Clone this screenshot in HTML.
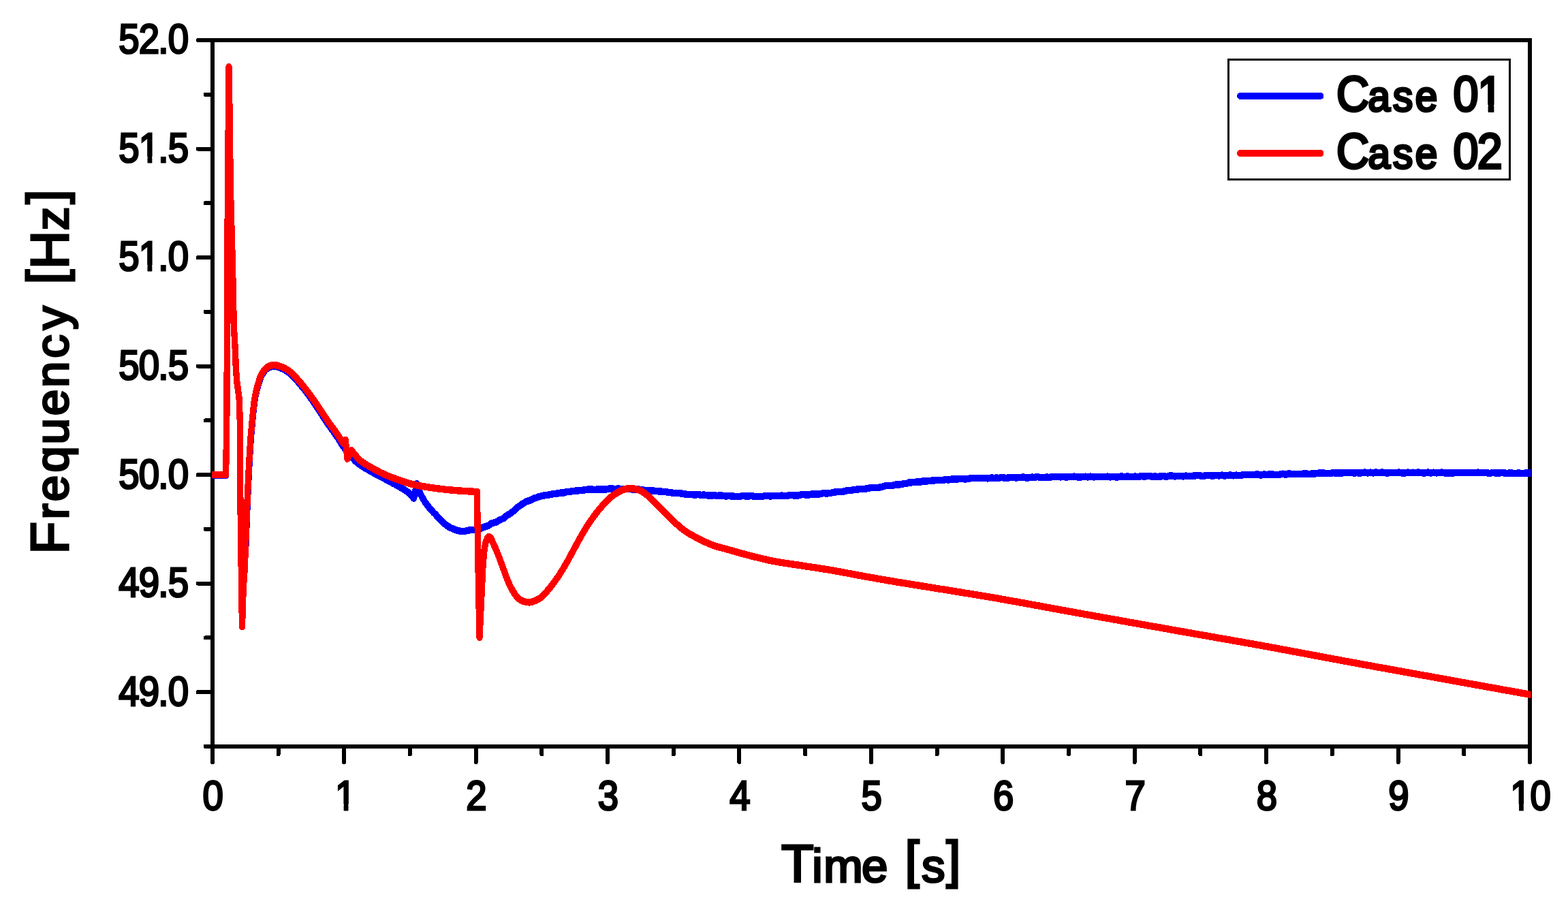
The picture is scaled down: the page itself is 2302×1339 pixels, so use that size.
<!DOCTYPE html>
<html lang="en"><head><meta charset="utf-8"><title>Frequency vs Time</title>
<style>
html,body{margin:0;padding:0;background:#fff;}
body{width:2302px;height:1339px;overflow:hidden;}
svg{display:block;}
text{font-family:"Liberation Sans",sans-serif;fill:#000;stroke:#000;stroke-linejoin:miter;white-space:pre;}
</style></head><body>
<svg width="2302" height="1339" viewBox="0 0 2302 1339" role="img" aria-label="Frequency [Hz] versus Time [s] for Case 01 and Case 02">
<desc>Line chart of Frequency [Hz] against Time [s] from 0 to 10 s (y axis 49.0 to 52.0 Hz) comparing Case 01 (blue) and Case 02 (red).</desc>
<rect width="2302" height="1339" fill="#fff"/>
<g stroke="#000" stroke-width="6.2" fill="none" stroke-linecap="round" shape-rendering="crispEdges">
<path d="M311.8,59.0 H2246.0 V1096.0 H311.8 Z" stroke-linejoin="miter" stroke-linecap="butt"/>
<rect x="287.90" y="56.00" width="23.90" height="6.00" rx="2.2" fill="#000" stroke="none"/>
<rect x="298.80" y="135.77" width="13.00" height="6.00" rx="2.2" fill="#000" stroke="none"/>
<rect x="287.90" y="215.54" width="23.90" height="6.00" rx="2.2" fill="#000" stroke="none"/>
<rect x="298.80" y="295.31" width="13.00" height="6.00" rx="2.2" fill="#000" stroke="none"/>
<rect x="287.90" y="375.08" width="23.90" height="6.00" rx="2.2" fill="#000" stroke="none"/>
<rect x="298.80" y="454.85" width="13.00" height="6.00" rx="2.2" fill="#000" stroke="none"/>
<rect x="287.90" y="534.62" width="23.90" height="6.00" rx="2.2" fill="#000" stroke="none"/>
<rect x="298.80" y="614.38" width="13.00" height="6.00" rx="2.2" fill="#000" stroke="none"/>
<rect x="287.90" y="694.15" width="23.90" height="6.00" rx="2.2" fill="#000" stroke="none"/>
<rect x="298.80" y="773.92" width="13.00" height="6.00" rx="2.2" fill="#000" stroke="none"/>
<rect x="287.90" y="853.69" width="23.90" height="6.00" rx="2.2" fill="#000" stroke="none"/>
<rect x="298.80" y="933.46" width="13.00" height="6.00" rx="2.2" fill="#000" stroke="none"/>
<rect x="287.90" y="1013.23" width="23.90" height="6.00" rx="2.2" fill="#000" stroke="none"/>
<rect x="298.80" y="1093.00" width="13.00" height="6.00" rx="2.2" fill="#000" stroke="none"/>
<rect x="308.80" y="1096.00" width="6.00" height="25.90" rx="2.2" fill="#000" stroke="none"/>
<rect x="405.51" y="1096.00" width="6.00" height="14.10" rx="2.2" fill="#000" stroke="none"/>
<rect x="502.22" y="1096.00" width="6.00" height="25.90" rx="2.2" fill="#000" stroke="none"/>
<rect x="598.93" y="1096.00" width="6.00" height="14.10" rx="2.2" fill="#000" stroke="none"/>
<rect x="695.64" y="1096.00" width="6.00" height="25.90" rx="2.2" fill="#000" stroke="none"/>
<rect x="792.35" y="1096.00" width="6.00" height="14.10" rx="2.2" fill="#000" stroke="none"/>
<rect x="889.06" y="1096.00" width="6.00" height="25.90" rx="2.2" fill="#000" stroke="none"/>
<rect x="985.77" y="1096.00" width="6.00" height="14.10" rx="2.2" fill="#000" stroke="none"/>
<rect x="1082.48" y="1096.00" width="6.00" height="25.90" rx="2.2" fill="#000" stroke="none"/>
<rect x="1179.19" y="1096.00" width="6.00" height="14.10" rx="2.2" fill="#000" stroke="none"/>
<rect x="1275.90" y="1096.00" width="6.00" height="25.90" rx="2.2" fill="#000" stroke="none"/>
<rect x="1372.61" y="1096.00" width="6.00" height="14.10" rx="2.2" fill="#000" stroke="none"/>
<rect x="1469.32" y="1096.00" width="6.00" height="25.90" rx="2.2" fill="#000" stroke="none"/>
<rect x="1566.03" y="1096.00" width="6.00" height="14.10" rx="2.2" fill="#000" stroke="none"/>
<rect x="1662.74" y="1096.00" width="6.00" height="25.90" rx="2.2" fill="#000" stroke="none"/>
<rect x="1759.45" y="1096.00" width="6.00" height="14.10" rx="2.2" fill="#000" stroke="none"/>
<rect x="1856.16" y="1096.00" width="6.00" height="25.90" rx="2.2" fill="#000" stroke="none"/>
<rect x="1952.87" y="1096.00" width="6.00" height="14.10" rx="2.2" fill="#000" stroke="none"/>
<rect x="2049.58" y="1096.00" width="6.00" height="25.90" rx="2.2" fill="#000" stroke="none"/>
<rect x="2146.29" y="1096.00" width="6.00" height="14.10" rx="2.2" fill="#000" stroke="none"/>
<rect x="2243.00" y="1096.00" width="6.00" height="25.90" rx="2.2" fill="#000" stroke="none"/>
</g>
<clipPath id="clip"><rect x="311.0" y="62" width="1936.6" height="1031"/></clipPath>
<g clip-path="url(#clip)"><g transform="scale(0.9,1)" fill="none" stroke-width="10.4" stroke-linejoin="round" stroke-linecap="round" shape-rendering="crispEdges">
<path stroke="#0000ff" d="M344.4,698.0 L368.4,698.0"/>
<path stroke="#0000ff" stroke-width="7.9" d="M368.4,698.0 L369.0,668.0 L370.0,599.0 L371.0,360.0 L372.2,217.0 L373.3,99.3 L373.8,120.0 L374.8,190.0 L375.9,273.0 L377.0,312.0 L378.1,347.0 L379.4,390.0 L380.5,437.0 L381.4,478.0 L382.5,495.0 L383.7,514.0 L384.8,540.0 L386.4,560.0 L390.1,584.0 L391.6,623.0 L391.9,720.0 L392.8,780.0 L393.8,850.0 L395.0,919.0 L396.3,887.0 L397.4,861.1 L398.7,847.2 L399.7,831.3 L400.8,805.4"/>
<path stroke="#0000ff" d="M400.8,805.4 L401.9,778.6 L403.0,751.7 L404.1,728.8 L406.7,680.4 L409.1,644.6 L409.3,642.5 L409.5,640.4 L409.7,638.3 L410.0,636.1 L410.2,634.0 L410.4,631.8 L410.6,629.7 L410.8,627.6 L411.0,625.5 L411.2,623.3 L411.4,621.3 L411.7,619.2 L411.9,617.1 L412.1,615.1 L412.3,613.1 L412.6,611.1 L412.8,609.0 L413.0,606.9 L413.3,604.8 L413.5,602.7 L413.7,600.6 L414.0,598.6 L414.2,596.6 L414.5,594.6 L414.8,592.6 L415.0,590.7 L415.3,588.8 L415.7,586.9 L416.0,585.1 L416.4,583.0 L416.9,580.9 L417.4,578.9 L417.9,576.9 L418.4,574.9 L418.9,573.0 L419.5,571.1 L420.1,569.2 L420.7,567.3 L421.3,565.2 L422.0,563.1 L422.7,561.0 L423.4,559.0 L424.2,557.0 L425.0,555.0 L425.8,553.1 L426.8,551.4 L427.9,549.5 L429.1,547.7 L430.4,546.0 L431.7,544.4 L433.2,543.0 L434.8,541.7 L436.8,540.5 L438.9,539.4 L441.2,538.6 L443.5,538.0 L445.9,537.7 L448.1,537.7 L450.4,538.1 L452.7,538.6 L455.1,539.3 L457.5,540.1 L459.8,541.0 L461.9,541.9 L464.1,542.9 L466.3,544.1 L468.4,545.3 L470.5,546.6 L472.6,548.0 L474.7,549.5 L476.4,550.9 L478.1,552.4 L479.8,554.0 L481.5,555.6 L483.1,557.3 L484.8,559.0 L486.4,560.8 L488.0,562.5 L489.7,564.3 L491.2,565.9 L492.7,567.6 L494.2,569.2 L495.7,570.9 L497.2,572.6 L498.7,574.4 L500.2,576.1 L501.6,577.9 L503.1,579.6 L504.6,581.4 L505.9,583.1 L507.3,584.9 L508.7,586.6 L510.0,588.4 L511.4,590.2 L512.7,592.0 L514.1,593.8 L515.4,595.6 L516.8,597.4 L518.1,599.3 L519.4,601.1 L520.7,602.8 L521.9,604.5 L523.2,606.2 L524.4,607.9 L525.7,609.7 L526.9,611.4 L528.2,613.2 L529.4,614.9 L530.7,616.6 L531.9,618.3 L533.2,620.0 L534.4,621.7 L535.8,623.5 L537.2,625.2 L538.6,627.0 L540.0,628.7 L541.4,630.5 L542.7,632.2 L544.1,633.9 L545.5,635.6 L546.8,637.3 L548.1,638.9 L549.3,640.6 L550.8,642.5 L552.2,644.5 L553.5,646.5 L554.8,648.4 L556.1,650.3 L557.4,652.1 L558.7,653.9 L560.0,655.6 L561.5,657.4 L562.9,659.1 L564.3,660.7 L565.7,662.3 L567.3,663.9 L568.9,665.6 L570.3,667.1 L571.7,668.6 L573.1,670.2 L574.6,671.8 L576.2,673.4 L577.8,675.0 L579.5,676.6 L581.2,678.1 L583.1,679.6 L584.7,680.8 L586.5,681.9 L588.2,683.0 L590.1,684.1 L592.0,685.2 L594.0,686.3 L596.0,687.4 L598.0,688.4 L600.0,689.4 L602.0,690.5 L604.1,691.5 L606.0,692.5 L608.0,693.5 L610.1,694.6 L612.1,695.6 L614.2,696.6 L616.3,697.6 L618.3,698.6 L620.4,699.6 L622.5,700.6 L624.6,701.5 L626.7,702.5 L628.7,703.5 L630.8,704.5 L632.9,705.5 L635.0,706.5 L637.2,707.6 L639.4,708.7 L641.6,709.8 L643.9,710.8 L646.1,711.9 L648.2,713.0 L650.4,714.1 L652.4,715.1 L654.3,716.1 L656.1,717.1 L657.8,718.0 L660.2,719.4 L662.3,720.7 L664.2,721.9 L666.1,723.2 L667.8,724.5 L669.5,726.0 L671.0,727.5 L672.4,729.0 L673.9,730.5 L675.0,731.8 L680.0,710.0 L685.6,725.0 L687.9,728.6 L690.2,732.3 L692.5,735.9 L695.1,739.4 L698.0,742.9 L701.0,746.3 L704.2,749.6 L707.6,752.9 L711.1,755.8 L714.9,760.2 L718.7,763.1 L722.6,766.6 L726.2,769.8 L729.8,772.0 L733.6,774.4 L737.4,775.8 L742.3,777.8 L747.4,779.1 L752.4,779.9 L757.4,780.1 L762.4,779.0 L767.3,778.0 L774.0,777.7 L780.4,777.5 L786.4,774.8 L792.2,772.9 L796.6,771.8 L801.1,768.7 L805.3,767.6 L810.0,766.4 L814.7,763.6 L818.2,762.3 L822.0,760.7 L826.0,757.3 L830.2,755.2 L833.5,753.4 L836.9,750.8 L840.4,748.0 L844.0,745.0 L847.7,742.8 L851.4,740.2 L855.1,738.3 L859.2,736.2 L863.3,735.1 L867.4,733.4 L871.6,731.4 L875.8,730.5 L880.0,728.9 L884.9,728.0 L889.9,727.0 L894.9,726.6 L899.9,725.5 L904.9,724.9 L909.9,724.5 L914.8,723.4 L919.8,723.4 L924.8,721.8 L929.8,721.9 L934.7,721.0 L939.7,720.5 L944.7,720.3 L949.7,719.8 L954.7,719.3 L959.6,718.5 L964.6,718.3 L969.6,718.9 L974.6,718.5 L979.6,718.6 L984.5,718.7 L989.5,718.3 L994.5,717.3 L999.5,717.6 L1004.4,717.9 L1009.1,717.4 L1013.8,718.4 L1018.4,718.3 L1023.0,718.3 L1027.8,718.0 L1032.9,718.7 L1038.1,718.2 L1043.4,718.8 L1048.8,719.5 L1054.3,720.3 L1059.0,720.3 L1063.7,720.3 L1068.5,720.9 L1073.4,721.3 L1078.4,721.6 L1083.6,721.9 L1088.9,722.6 L1093.1,723.0 L1097.3,723.7 L1101.7,724.1 L1106.1,724.1 L1110.6,724.4 L1115.1,725.2 L1119.8,725.7 L1124.5,725.7 L1129.3,726.2 L1134.2,726.7 L1139.1,725.8 L1143.3,727.1 L1147.5,726.5 L1151.9,727.0 L1156.3,727.6 L1160.7,727.7 L1165.3,727.1 L1169.8,727.9 L1174.4,727.3 L1179.1,727.8 L1183.7,728.5 L1188.4,728.1 L1193.0,728.5 L1197.7,728.7 L1202.3,728.9 L1206.9,728.9 L1211.4,728.0 L1216.0,728.5 L1220.5,728.6 L1225.0,728.1 L1229.6,728.7 L1234.1,728.8 L1238.6,729.0 L1243.1,729.1 L1247.7,728.0 L1252.2,728.1 L1256.7,728.5 L1261.3,727.8 L1265.8,727.8 L1270.3,728.1 L1274.8,727.5 L1279.4,728.1 L1283.9,728.1 L1288.4,726.8 L1292.9,727.3 L1297.5,727.5 L1302.0,727.5 L1306.5,726.4 L1311.0,726.0 L1315.6,726.7 L1320.1,726.5 L1324.6,725.3 L1329.1,725.4 L1333.6,725.4 L1338.2,725.3 L1342.7,724.1 L1347.2,724.4 L1351.7,724.3 L1356.2,723.6 L1360.8,722.7 L1365.3,722.1 L1369.8,722.0 L1374.3,722.2 L1378.9,720.7 L1383.4,720.2 L1387.9,720.1 L1392.5,719.2 L1397.0,718.8 L1401.5,718.1 L1406.0,718.3 L1410.6,717.9 L1415.1,717.1 L1419.6,716.2 L1424.1,715.9 L1428.7,715.7 L1433.2,715.7 L1437.7,715.2 L1442.2,713.7 L1446.8,712.8 L1451.3,713.3 L1455.8,712.9 L1460.4,711.7 L1464.9,711.6 L1469.4,711.2 L1473.9,710.3 L1478.5,710.1 L1483.0,708.5 L1487.5,708.3 L1492.0,707.9 L1496.6,707.2 L1501.1,707.8 L1505.7,706.3 L1510.2,706.8 L1514.9,705.7 L1519.5,705.7 L1524.2,705.5 L1528.8,704.9 L1533.5,705.0 L1538.2,704.8 L1542.8,704.2 L1547.3,704.5 L1551.9,703.6 L1556.4,703.4 L1560.8,703.4 L1565.1,703.2 L1569.3,702.8 L1573.4,703.5 L1578.6,703.2 L1583.5,702.1 L1588.2,702.3 L1592.8,701.9 L1597.3,702.1 L1601.9,701.7 L1606.5,701.9 L1611.5,702.4 L1616.6,701.6 L1622.2,701.8 L1626.0,701.6 L1629.8,701.8 L1633.8,700.8 L1637.9,701.6 L1642.0,701.8 L1646.3,701.3 L1650.7,700.8 L1655.1,701.3 L1659.6,701.3 L1664.2,701.1 L1668.8,700.4 L1673.5,701.4 L1678.2,701.4 L1682.9,700.6 L1687.7,700.8 L1692.5,700.0 L1697.3,701.2 L1702.1,700.9 L1707.0,700.6 L1711.8,700.8 L1716.6,700.0 L1721.4,700.1 L1726.1,700.0 L1730.4,700.4 L1734.7,699.7 L1739.1,700.7 L1743.5,700.1 L1747.9,700.1 L1752.3,699.6 L1756.8,700.3 L1761.3,700.5 L1765.7,700.2 L1770.2,699.7 L1774.8,700.4 L1779.3,699.6 L1783.8,700.4 L1788.4,700.1 L1793.0,699.7 L1797.5,700.0 L1802.1,700.1 L1806.7,699.6 L1811.3,700.4 L1815.8,699.8 L1820.4,700.4 L1825.0,700.3 L1829.5,699.3 L1834.1,700.0 L1838.6,699.5 L1843.2,700.1 L1847.7,699.8 L1852.2,699.6 L1856.7,700.2 L1861.3,699.0 L1865.8,699.7 L1870.4,699.3 L1875.0,698.9 L1879.7,699.8 L1884.3,699.5 L1888.9,699.9 L1893.5,699.4 L1898.2,699.1 L1902.8,699.9 L1907.4,698.7 L1912.1,698.5 L1916.7,699.4 L1921.3,698.8 L1925.9,698.8 L1930.4,699.4 L1934.9,698.6 L1939.5,699.3 L1943.9,698.9 L1948.4,698.5 L1952.8,698.1 L1957.2,698.2 L1961.5,699.1 L1965.8,698.3 L1970.0,698.0 L1974.2,698.1 L1978.3,698.8 L1983.3,697.8 L1988.3,698.5 L1993.1,697.6 L1997.8,698.6 L2002.5,698.0 L2007.1,697.3 L2011.7,698.4 L2016.3,697.6 L2020.8,698.0 L2025.3,697.7 L2029.8,697.0 L2034.3,697.0 L2038.8,696.9 L2043.3,696.9 L2047.9,696.7 L2052.5,696.6 L2057.1,697.7 L2061.9,696.5 L2066.7,696.9 L2071.0,696.3 L2075.4,696.4 L2079.7,697.0 L2084.1,697.1 L2088.5,696.4 L2092.9,695.7 L2097.3,696.9 L2101.8,695.5 L2106.2,695.8 L2110.7,695.9 L2115.2,696.3 L2119.7,696.1 L2124.2,695.7 L2128.8,695.3 L2133.3,695.7 L2137.9,695.7 L2142.5,695.6 L2147.1,695.3 L2151.8,694.4 L2156.4,694.6 L2161.1,694.7 L2165.8,694.7 L2170.6,695.0 L2174.8,694.2 L2179.1,694.7 L2183.4,694.3 L2187.7,694.8 L2191.9,694.0 L2196.2,694.3 L2200.5,693.8 L2204.8,693.9 L2209.1,694.8 L2213.5,694.0 L2217.8,694.7 L2222.2,694.2 L2226.6,693.5 L2231.0,694.5 L2235.4,693.5 L2239.9,694.5 L2244.4,693.4 L2248.9,694.3 L2253.5,693.6 L2258.1,693.8 L2262.7,694.6 L2267.4,694.0 L2272.2,694.2 L2277.0,694.3 L2281.8,693.5 L2286.7,694.4 L2291.7,694.5 L2296.7,693.6 L2300.7,694.1 L2304.7,693.7 L2308.8,694.3 L2313.0,693.4 L2317.1,694.0 L2321.4,694.4 L2325.6,694.3 L2329.9,693.5 L2334.2,694.5 L2338.6,693.7 L2343.0,694.4 L2347.4,694.0 L2351.9,693.6 L2356.4,694.4 L2360.9,694.5 L2365.4,694.4 L2369.9,694.7 L2374.5,693.8 L2379.1,693.8 L2383.7,693.7 L2388.3,694.2 L2393.0,694.1 L2397.6,694.0 L2402.3,694.2 L2407.0,694.0 L2411.7,693.6 L2416.3,694.3 L2421.0,694.0 L2425.7,694.3 L2430.4,694.9 L2435.1,693.9 L2439.8,694.6 L2444.5,694.6 L2449.2,694.1 L2453.9,694.4 L2458.6,695.1 L2463.2,694.3 L2467.9,694.8 L2472.5,695.0 L2477.1,694.3 L2481.8,695.2 L2486.3,694.7 L2490.9,694.6 L2495.5,694.6 L2500.0,694.6"/>
<path stroke="#ff0000" d="M344.4,697.0 L368.4,697.0 L369.0,668.0 L370.0,599.0 L371.0,360.0 L372.2,217.0 L373.3,98.3 L373.8,120.0 L374.8,190.0 L375.9,273.0 L377.0,312.0 L378.1,347.0 L379.4,390.0 L380.5,437.0 L381.4,478.0 L382.5,495.0 L383.7,514.0 L384.8,540.0 L386.4,560.0 L390.1,584.0 L391.6,623.0 L391.9,720.0 L392.8,780.0 L393.8,850.0 L395.0,920.0 L396.0,887.0 L397.1,861.0 L398.3,847.0 L399.3,831.0 L400.4,805.0 L401.6,778.0 L402.7,751.0 L403.8,728.0 L406.3,679.5 L408.8,643.6 L409.0,641.5 L409.2,639.4 L409.4,637.2 L409.6,635.1 L409.8,633.0 L410.0,630.8 L410.3,628.7 L410.5,626.5 L410.7,624.4 L410.9,622.3 L411.1,620.2 L411.3,618.1 L411.5,616.0 L411.8,614.0 L412.0,612.0 L412.2,610.0 L412.5,607.9 L412.7,605.7 L412.9,603.6 L413.2,601.6 L413.4,599.5 L413.7,597.4 L413.9,595.4 L414.2,593.4 L414.4,591.4 L414.7,589.5 L415.0,587.6 L415.3,585.7 L415.7,583.9 L416.1,581.7 L416.6,579.7 L417.0,577.6 L417.5,575.6 L418.1,573.7 L418.6,571.7 L419.1,569.8 L419.7,567.9 L420.3,566.0 L421.0,563.9 L421.7,561.8 L422.3,559.7 L423.1,557.6 L423.8,555.6 L424.6,553.6 L425.5,551.8 L426.4,550.0 L427.6,548.1 L428.8,546.3 L430.0,544.5 L431.4,542.9 L432.9,541.5 L434.4,540.2 L436.4,539.0 L438.6,537.9 L440.8,537.1 L443.2,536.4 L445.6,536.1 L447.8,536.1 L450.2,536.3 L452.6,536.7 L455.0,537.3 L457.4,538.0 L459.8,538.8 L462.0,539.6 L464.1,540.6 L466.3,541.7 L468.4,542.9 L470.5,544.2 L472.6,545.6 L474.7,547.0 L476.4,548.3 L478.1,549.8 L479.8,551.3 L481.5,552.9 L483.1,554.6 L484.8,556.3 L486.4,558.0 L488.0,559.7 L489.7,561.4 L491.2,563.0 L492.7,564.6 L494.2,566.3 L495.7,567.9 L497.2,569.6 L498.7,571.3 L500.2,573.0 L501.6,574.7 L503.1,576.4 L504.6,578.2 L505.9,579.9 L507.3,581.6 L508.7,583.3 L510.0,585.1 L511.4,586.8 L512.7,588.6 L514.1,590.4 L515.4,592.1 L516.8,593.9 L518.1,595.7 L519.4,597.5 L520.7,599.2 L521.9,600.9 L523.2,602.6 L524.4,604.3 L525.7,606.0 L526.9,607.7 L528.2,609.4 L529.4,611.1 L530.7,612.8 L531.9,614.5 L533.2,616.1 L534.4,617.8 L535.8,619.5 L537.2,621.3 L538.6,623.0 L540.0,624.7 L541.4,626.4 L542.7,628.1 L544.1,629.8 L545.5,631.4 L546.8,633.1 L548.1,634.7 L549.3,636.3 L550.8,638.2 L552.2,640.1 L553.5,641.9 L554.8,643.7 L556.1,645.5 L557.4,647.4 L558.7,649.2 L560.0,651.0 L563.6,646.0 L566.6,673.7 L573.3,661.0 L574.7,662.6 L576.0,664.2 L577.4,665.8 L578.9,667.5 L580.2,668.9 L581.6,670.4 L583.0,672.0 L584.6,673.5 L586.2,675.0 L588.1,676.5 L589.7,677.6 L591.5,678.8 L593.4,679.9 L595.3,681.0 L597.4,682.2 L599.5,683.3 L601.6,684.3 L603.7,685.4 L605.7,686.5 L607.8,687.5 L609.7,688.5 L611.7,689.5 L613.7,690.5 L615.7,691.4 L617.6,692.4 L619.6,693.3 L621.6,694.2 L623.7,695.1 L625.7,695.9 L627.8,696.8 L629.9,697.7 L632.1,698.5 L634.3,699.3 L636.5,700.1 L638.8,700.8 L641.0,701.6 L643.2,702.3 L645.5,703.1 L647.7,703.8 L650.0,704.5 L652.2,705.2 L654.4,705.9 L656.6,706.6 L658.8,707.3 L661.0,707.9 L663.3,708.6 L665.5,709.2 L667.9,709.8 L670.3,710.4 L672.8,711.0 L674.9,711.5 L677.0,711.9 L679.3,712.3 L681.5,712.7 L683.8,713.1 L686.1,713.5 L688.5,713.9 L690.9,714.3 L693.3,714.6 L695.7,715.0 L698.1,715.3 L700.6,715.7 L703.0,716.0 L705.4,716.3 L707.8,716.6 L710.1,716.9 L712.4,717.2 L714.7,717.4 L717.1,717.7 L719.5,717.9 L721.8,718.2 L724.2,718.4 L726.6,718.7 L728.9,718.9 L731.3,719.1 L733.6,719.3 L736.0,719.5 L738.3,719.7 L740.5,719.9 L742.8,720.0 L745.0,720.2 L747.5,720.4 L750.0,720.5 L752.6,720.7 L755.2,720.9 L757.8,721.0 L760.4,721.1 L762.9,721.3 L765.3,721.4 L767.5,721.5 L769.6,721.6 L771.5,721.7 L773.1,721.7 L774.4,721.8 L776.6,721.9 L778.2,722.0 L780.0,830.0 L782.2,936.0 L786.1,862.0 L787.8,830.0 L790.0,808.0 L790.6,804.6 L791.2,801.2 L791.9,797.9 L792.8,795.0 L794.7,790.6 L797.0,788.0 L799.0,788.7 L800.9,790.5 L802.6,793.5 L804.2,797.2 L805.6,799.9 L807.1,802.8 L808.7,805.8 L810.1,808.8 L811.4,811.7 L812.7,814.6 L813.9,817.5 L815.1,820.5 L816.4,823.6 L817.7,826.8 L819.0,829.9 L820.3,833.1 L821.6,836.3 L822.8,839.4 L824.1,842.6 L825.3,845.7 L826.6,848.7 L827.9,851.7 L829.3,854.6 L830.7,857.4 L832.4,860.7 L834.2,863.9 L836.2,867.1 L838.1,869.9 L840.2,872.8 L842.3,875.5 L844.7,877.8 L847.4,879.8 L850.3,881.4 L853.3,882.6 L858.1,883.9 L863.0,884.4 L866.5,884.0 L869.9,883.0 L873.3,881.8 L876.6,880.4 L879.9,878.8 L883.0,876.8 L885.6,874.8 L888.1,872.5 L890.6,869.9 L893.2,867.1 L895.1,865.0 L897.2,862.8 L899.2,860.4 L901.4,857.9 L903.5,855.3 L905.6,852.8 L907.6,850.2 L909.6,847.7 L911.6,845.0 L913.6,842.2 L915.5,839.4 L917.4,836.7 L919.2,833.9 L921.1,831.1 L922.9,828.3 L924.7,825.5 L926.4,822.8 L928.1,820.0 L929.8,817.2 L931.4,814.4 L933.1,811.6 L934.8,808.8 L936.4,806.0 L938.1,803.3 L939.7,800.5 L941.4,797.8 L943.1,795.0 L944.8,792.2 L946.6,789.4 L948.2,786.8 L949.9,784.1 L951.7,781.4 L953.4,778.7 L955.2,776.0 L957.1,773.3 L959.0,770.6 L960.9,768.0 L962.9,765.3 L965.1,762.6 L967.2,759.9 L969.4,757.2 L971.7,754.5 L973.9,751.9 L976.1,749.4 L978.3,747.0 L980.9,744.3 L983.4,741.6 L985.9,739.0 L988.5,736.6 L991.1,734.2 L993.8,732.0 L996.9,729.7 L1000.1,727.5 L1003.3,725.4 L1006.5,723.6 L1009.4,722.0 L1012.9,720.4 L1016.1,719.1 L1019.4,718.2 L1022.7,717.6 L1026.0,717.2 L1029.4,717.2 L1033.3,717.4 L1037.2,718.0 L1041.1,719.0 L1044.6,720.4 L1048.2,722.2 L1051.7,724.3 L1055.0,726.5 L1057.5,728.4 L1059.9,730.3 L1062.2,732.4 L1064.6,734.6 L1067.2,737.0 L1069.3,738.8 L1071.4,740.8 L1073.7,742.9 L1076.1,745.1 L1078.5,747.4 L1080.9,749.7 L1083.4,751.9 L1085.9,754.2 L1088.3,756.4 L1090.8,758.5 L1093.4,760.8 L1096.0,763.0 L1098.7,765.3 L1101.3,767.5 L1104.0,769.7 L1106.7,771.8 L1109.4,773.9 L1112.1,775.9 L1114.9,777.8 L1117.8,779.7 L1120.8,781.5 L1123.8,783.2 L1126.9,784.8 L1129.9,786.4 L1133.0,787.9 L1136.0,789.3 L1139.1,790.8 L1142.5,792.4 L1145.9,793.9 L1149.4,795.4 L1152.8,796.8 L1156.3,798.1 L1159.8,799.4 L1163.2,800.6 L1166.6,801.6 L1169.9,802.6 L1173.2,803.4 L1176.6,804.2 L1179.9,805.0 L1183.3,805.8 L1186.7,806.6 L1190.1,807.5 L1193.5,808.4 L1196.8,809.3 L1200.2,810.2 L1203.7,811.1 L1207.5,812.0 L1211.4,813.0 L1214.4,813.7 L1217.5,814.4 L1220.7,815.2 L1224.1,816.0 L1227.5,816.8 L1231.0,817.6 L1234.6,818.3 L1238.2,819.1 L1241.8,819.9 L1245.5,820.7 L1249.1,821.4 L1252.7,822.2 L1256.3,822.9 L1259.8,823.5 L1263.2,824.1 L1266.6,824.7 L1270.1,825.2 L1273.5,825.8 L1277.0,826.3 L1280.4,826.8 L1283.9,827.2 L1287.3,827.7 L1290.8,828.2 L1294.2,828.6 L1297.7,829.1 L1301.1,829.5 L1304.6,830.0 L1308.0,830.5 L1311.4,831.0 L1314.9,831.5 L1318.3,831.9 L1321.8,832.4 L1325.2,832.9 L1328.7,833.3 L1332.1,833.8 L1335.6,834.2 L1339.0,834.7 L1342.4,835.2 L1345.9,835.7 L1349.3,836.2 L1352.8,836.7 L1356.2,837.2 L1359.7,837.7 L1363.1,838.3 L1366.6,838.9 L1370.0,839.4 L1373.5,840.0 L1376.9,840.6 L1380.4,841.2 L1383.8,841.8 L1387.3,842.4 L1390.7,843.0 L1394.2,843.6 L1397.7,844.2 L1401.1,844.7 L1404.6,845.3 L1408.0,845.9 L1411.4,846.4 L1414.9,847.0 L1418.3,847.5 L1421.8,848.1 L1425.2,848.6 L1428.7,849.2 L1432.1,849.7 L1435.5,850.2 L1439.0,850.8 L1442.4,851.3 L1445.9,851.8 L1449.3,852.4 L1452.8,852.9 L1456.2,853.4 L1459.7,853.9 L1463.1,854.5 L1466.6,855.0 L1470.0,855.5 L1473.5,856.0 L1476.9,856.5 L1480.4,857.0 L1483.8,857.5 L1487.3,858.0 L1490.8,858.5 L1494.2,859.0 L1497.7,859.5 L1501.1,860.0 L1504.5,860.5 L1507.9,861.0 L1511.3,861.5 L1514.6,862.0 L1517.9,862.4 L1521.3,862.9 L1524.6,863.4 L1528.0,863.9 L1531.4,864.4 L1534.8,864.9 L1538.3,865.4 L1541.9,865.9 L1545.6,866.5 L1549.3,867.0 L1552.3,867.4 L1555.3,867.9 L1558.3,868.3 L1561.4,868.8 L1564.4,869.2 L1567.5,869.6 L1570.6,870.1 L1573.8,870.6 L1577.0,871.0 L1580.2,871.5 L1583.4,872.0 L1586.7,872.4 L1590.1,872.9 L1593.4,873.4 L1596.9,873.9 L1600.3,874.5 L1603.8,875.0 L1607.4,875.5 L1611.0,876.1 L1614.7,876.6 L1618.4,877.2 L1622.2,877.8 L1625.0,878.2 L1627.9,878.7 L1630.8,879.1 L1633.7,879.6 L1636.7,880.1 L1639.7,880.6 L1642.8,881.1 L1645.9,881.6 L1649.0,882.1 L1652.1,882.6 L1655.3,883.1 L1658.5,883.6 L1661.7,884.1 L1665.0,884.7 L1668.3,885.2 L1671.6,885.7 L1674.9,886.3 L1678.3,886.8 L1681.6,887.4 L1685.0,888.0 L1688.4,888.5 L1691.8,889.1 L1695.2,889.6 L1698.7,890.2 L1702.1,890.8 L1705.6,891.4 L1709.1,891.9 L1712.5,892.5 L1716.0,893.1 L1719.5,893.7 L1723.0,894.2 L1726.5,894.8 L1730.0,895.4 L1733.4,895.9 L1736.9,896.5 L1740.4,897.1 L1743.9,897.7 L1747.3,898.2 L1750.8,898.8 L1754.2,899.3 L1757.7,899.9 L1760.8,900.4 L1764.0,900.9 L1767.2,901.4 L1770.4,902.0 L1773.6,902.5 L1776.8,903.0 L1780.1,903.5 L1783.3,904.0 L1786.5,904.6 L1789.8,905.1 L1793.0,905.6 L1796.3,906.1 L1799.6,906.7 L1802.9,907.2 L1806.2,907.7 L1809.5,908.2 L1812.8,908.8 L1816.1,909.3 L1819.4,909.8 L1822.7,910.4 L1826.0,910.9 L1829.3,911.4 L1832.6,912.0 L1836.0,912.5 L1839.3,913.0 L1842.6,913.6 L1845.9,914.1 L1849.3,914.6 L1852.6,915.2 L1855.9,915.7 L1859.2,916.2 L1862.6,916.8 L1865.9,917.3 L1869.2,917.8 L1872.5,918.4 L1875.9,918.9 L1879.2,919.4 L1882.5,919.9 L1885.8,920.5 L1889.1,921.0 L1892.4,921.5 L1895.7,922.1 L1899.0,922.6 L1902.3,923.1 L1905.5,923.6 L1908.8,924.2 L1912.1,924.7 L1915.3,925.2 L1918.7,925.7 L1922.0,926.3 L1925.3,926.8 L1928.6,927.3 L1932.0,927.8 L1935.3,928.4 L1938.6,928.9 L1941.9,929.4 L1945.3,930.0 L1948.6,930.5 L1951.9,931.0 L1955.2,931.5 L1958.6,932.1 L1961.9,932.6 L1965.2,933.1 L1968.5,933.6 L1971.9,934.2 L1975.2,934.7 L1978.5,935.2 L1981.8,935.7 L1985.1,936.3 L1988.4,936.8 L1991.7,937.3 L1995.0,937.8 L1998.3,938.3 L2001.6,938.9 L2004.9,939.4 L2008.2,939.9 L2011.5,940.4 L2014.8,941.0 L2018.1,941.5 L2021.3,942.0 L2024.6,942.5 L2027.9,943.0 L2031.1,943.6 L2034.4,944.1 L2037.6,944.6 L2040.9,945.1 L2044.1,945.6 L2047.4,946.2 L2050.6,946.7 L2053.8,947.2 L2057.0,947.7 L2060.3,948.3 L2063.5,948.8 L2066.7,949.3 L2070.1,949.9 L2073.4,950.4 L2076.8,951.0 L2080.1,951.5 L2083.5,952.1 L2086.8,952.6 L2090.1,953.2 L2093.4,953.7 L2096.7,954.3 L2100.0,954.8 L2103.3,955.4 L2106.6,955.9 L2109.8,956.5 L2113.1,957.0 L2116.3,957.6 L2119.6,958.1 L2122.8,958.7 L2126.1,959.2 L2129.3,959.8 L2132.6,960.3 L2135.8,960.9 L2139.1,961.4 L2142.3,962.0 L2145.6,962.5 L2148.9,963.1 L2152.1,963.6 L2155.4,964.2 L2158.7,964.7 L2161.9,965.3 L2165.2,965.8 L2168.5,966.4 L2171.8,966.9 L2175.1,967.5 L2178.5,968.1 L2181.8,968.6 L2185.2,969.2 L2188.5,969.7 L2191.9,970.3 L2195.3,970.9 L2198.7,971.4 L2202.1,972.0 L2205.3,972.5 L2208.5,973.0 L2211.7,973.6 L2214.9,974.1 L2218.1,974.6 L2221.3,975.2 L2224.5,975.7 L2227.8,976.2 L2231.1,976.8 L2234.3,977.3 L2237.6,977.8 L2240.9,978.4 L2244.2,978.9 L2247.5,979.5 L2250.8,980.0 L2254.1,980.5 L2257.4,981.1 L2260.8,981.6 L2264.1,982.2 L2267.4,982.7 L2270.8,983.2 L2274.1,983.8 L2277.4,984.3 L2280.8,984.9 L2284.1,985.4 L2287.4,986.0 L2290.8,986.5 L2294.1,987.0 L2297.5,987.6 L2300.8,988.1 L2304.1,988.7 L2307.5,989.2 L2310.8,989.7 L2314.1,990.3 L2317.4,990.8 L2320.7,991.4 L2324.0,991.9 L2327.3,992.4 L2330.6,993.0 L2333.9,993.5 L2337.2,994.0 L2340.4,994.6 L2343.7,995.1 L2346.9,995.6 L2350.2,996.1 L2353.4,996.7 L2356.6,997.2 L2359.8,997.7 L2363.2,998.3 L2366.6,998.8 L2370.0,999.4 L2373.5,999.9 L2376.8,1000.5 L2380.2,1001.0 L2383.6,1001.6 L2387.0,1002.1 L2390.4,1002.7 L2393.7,1003.2 L2397.1,1003.8 L2400.4,1004.3 L2403.8,1004.8 L2407.1,1005.4 L2410.5,1005.9 L2413.8,1006.5 L2417.1,1007.0 L2420.4,1007.5 L2423.8,1008.1 L2427.1,1008.6 L2430.4,1009.1 L2433.7,1009.7 L2437.0,1010.2 L2440.3,1010.7 L2443.6,1011.3 L2447.0,1011.8 L2450.3,1012.4 L2453.6,1012.9 L2456.9,1013.4 L2460.2,1014.0 L2463.5,1014.5 L2466.8,1015.0 L2470.1,1015.6 L2473.4,1016.1 L2476.7,1016.6 L2480.0,1017.2 L2483.4,1017.7 L2486.7,1018.2 L2490.0,1018.8 L2493.3,1019.3 L2496.7,1019.9 L2500.0,1020.4"/>
</g></g>
<text class="tick" transform="translate(174.20,78.40) scale(0.8850,1)" x="0.00 33.45 65.54 81.92" y="0" font-size="61.60" stroke-width="3.00">52.0</text>
<clipPath id="c1_1"><path clip-rule="evenodd" d="M-400,-400H4000V400H-400ZM34.63,-8.12H47.89V4.50H34.63ZM55.43,-8.12H66.98V4.50H55.43Z"/></clipPath><text class="tick" transform="translate(174.20,237.94) scale(0.8850,1)" clip-path="url(#c1_1)" x="0.00 33.45 65.54 81.92" y="0" font-size="61.60" stroke-width="3.00">51.5</text>
<clipPath id="c1_2"><path clip-rule="evenodd" d="M-400,-400H4000V400H-400ZM34.63,-8.12H47.89V4.50H34.63ZM55.43,-8.12H66.98V4.50H55.43Z"/></clipPath><text class="tick" transform="translate(174.20,397.48) scale(0.8850,1)" clip-path="url(#c1_2)" x="0.00 33.45 65.54 81.92" y="0" font-size="61.60" stroke-width="3.00">51.0</text>
<text class="tick" transform="translate(174.20,557.02) scale(0.8850,1)" x="0.00 33.45 65.54 81.92" y="0" font-size="61.60" stroke-width="3.00">50.5</text>
<text class="tick" transform="translate(174.20,716.55) scale(0.8850,1)" x="0.00 33.45 65.54 81.92" y="0" font-size="61.60" stroke-width="3.00">50.0</text>
<text class="tick" transform="translate(174.20,876.09) scale(0.8850,1)" x="0.00 33.45 65.54 81.92" y="0" font-size="61.60" stroke-width="3.00">49.5</text>
<text class="tick" transform="translate(174.20,1035.63) scale(0.8850,1)" x="0.00 33.45 65.54 81.92" y="0" font-size="61.60" stroke-width="3.00">49.0</text>
<text class="tick" transform="translate(297.50,1188.70) scale(0.8850,1)" x="0.00" y="0" font-size="61.60" stroke-width="3.00">0</text>
<clipPath id="c1_3"><path clip-rule="evenodd" d="M-400,-400H4000V400H-400ZM1.18,-8.12H14.44V4.50H1.18ZM21.98,-8.12H34.73V4.50H21.98Z"/></clipPath><text class="tick" transform="translate(491.92,1188.70) scale(0.8850,1)" clip-path="url(#c1_3)" x="0.00" y="0" font-size="61.60" stroke-width="3.00">1</text>
<text class="tick" transform="translate(684.34,1188.70) scale(0.8850,1)" x="0.00" y="0" font-size="61.60" stroke-width="3.00">2</text>
<text class="tick" transform="translate(877.76,1188.70) scale(0.8850,1)" x="0.00" y="0" font-size="61.60" stroke-width="3.00">3</text>
<text class="tick" transform="translate(1071.18,1188.70) scale(0.8850,1)" x="0.00" y="0" font-size="61.60" stroke-width="3.00">4</text>
<text class="tick" transform="translate(1264.60,1188.70) scale(0.8850,1)" x="0.00" y="0" font-size="61.60" stroke-width="3.00">5</text>
<text class="tick" transform="translate(1458.02,1188.70) scale(0.8850,1)" x="0.00" y="0" font-size="61.60" stroke-width="3.00">6</text>
<text class="tick" transform="translate(1651.44,1188.70) scale(0.8850,1)" x="0.00" y="0" font-size="61.60" stroke-width="3.00">7</text>
<text class="tick" transform="translate(1844.86,1188.70) scale(0.8850,1)" x="0.00" y="0" font-size="61.60" stroke-width="3.00">8</text>
<text class="tick" transform="translate(2038.28,1188.70) scale(0.8850,1)" x="0.00" y="0" font-size="61.60" stroke-width="3.00">9</text>
<clipPath id="c1_4"><path clip-rule="evenodd" d="M-400,-400H4000V400H-400ZM1.18,-8.12H14.44V4.50H1.18ZM21.98,-8.12H33.53V4.50H21.98Z"/></clipPath><text class="tick" transform="translate(2217.30,1188.70) scale(0.8850,1)" clip-path="url(#c1_4)" x="0.00 32.88" y="0" font-size="61.60" stroke-width="3.00">10</text>
<text class="title" transform="translate(1147.11,1295.10) scale(1.0000,1)" x="0.00 45.13 62.19 117.97 156.36 181.37 205.96 242.26" y="0 0 0 0 0 -7.6 0 -7.6" font-size="78.00" stroke-width="3.20">T<tspan font-size="69.03">ime </tspan><tspan font-size="76.05">[</tspan><tspan font-size="69.03">s</tspan><tspan font-size="76.05">]</tspan></text>
<text class="title" transform="translate(100.30,813.47) rotate(-90) scale(1.0000,1)" x="0.00 50.93 77.30 119.94 161.01 203.20 244.59 287.81 329.47 363.99 396.20 418.37 475.32 513.99" y="0 0 0 0 0 0 0 0 0 0 -7.6 0 0 -7.6" font-size="78.00" stroke-width="3.20">F<tspan font-size="69.03">requency </tspan><tspan font-size="76.05">[</tspan>H<tspan font-size="69.03">z</tspan><tspan font-size="76.05">]</tspan></text>
<rect x="1803.5" y="87.6" width="413.0" height="175.8" fill="#fff" stroke="#000" stroke-width="3.2" shape-rendering="crispEdges"/>
<line x1="1821.0" y1="140.8" x2="1938.5" y2="140.8" stroke="#0000ff" stroke-width="10" stroke-linecap="round" shape-rendering="crispEdges"/>
<line x1="1821.0" y1="225.0" x2="1938.5" y2="225.0" stroke="#ff0000" stroke-width="10" stroke-linecap="round" shape-rendering="crispEdges"/>
<clipPath id="c1_5"><path clip-rule="evenodd" d="M-400,-400H4000V400H-400ZM224.59,-9.26H239.58V4.90H224.59ZM248.80,-9.26H263.20V4.90H248.80Z"/></clipPath><text class="leg" transform="translate(1961.91,163.10) scale(0.9300,1)" clip-path="url(#c1_5)" x="0.00 49.99 89.45 124.44 159.43 184.63 223.05" y="0" font-size="71.50" stroke-width="3.80">C<tspan font-size="62.92">ase </tspan>01</text>
<text class="leg" transform="translate(1961.91,247.10) scale(0.9300,1)" x="0.00 49.99 89.45 124.44 159.43 184.63 222.53" y="0" font-size="71.50" stroke-width="3.80">C<tspan font-size="62.92">ase </tspan>02</text>
</svg></body></html>
